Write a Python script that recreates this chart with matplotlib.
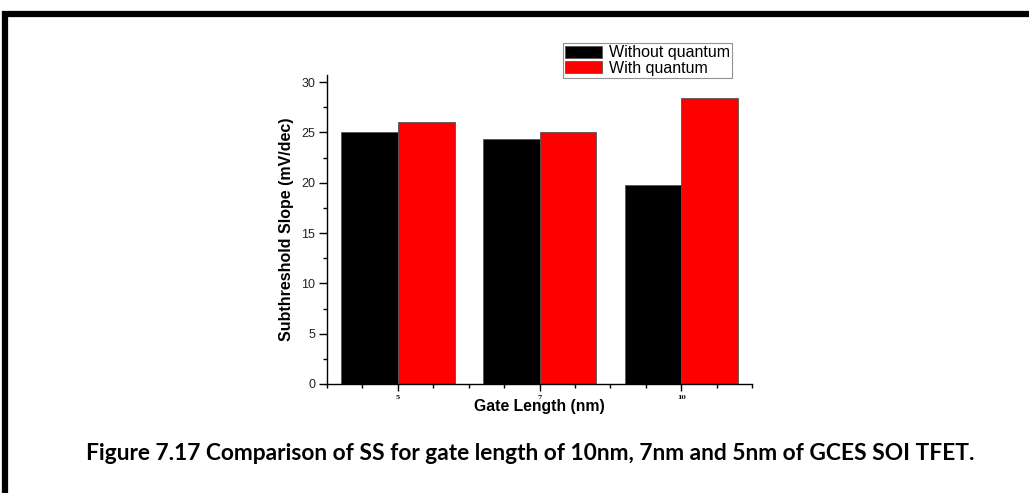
import matplotlib
matplotlib.use("Agg")
import matplotlib.pyplot as plt
from matplotlib.patches import Rectangle
from matplotlib.ticker import MultipleLocator, FixedLocator
import numpy as np

# Data
gate_lengths = ["5", "7", "10"]
ss_without_quantum = [25.0, 24.3, 19.8]
ss_with_quantum = [26.0, 25.0, 28.4]
series_labels = ["Without quantum", "With quantum"]
caption = "Figure 7.17 Comparison of SS for gate length of 10nm, 7nm and 5nm of GCES SOI TFET."

W, H = 1029, 493
fig = plt.figure(figsize=(W / 100, H / 100), dpi=100)
fig.patch.set_facecolor("white")

# Thick page frame around the figure
frame = Rectangle((5 / W, -0.2), 1.2, 1 - 14 / H + 0.2, transform=fig.transFigure,
                  fill=False, edgecolor="black", linewidth=4.5, zorder=0)
fig.patches.append(frame)

ax = fig.add_axes([327 / W, 1 - 384 / H, (752 - 327) / W, (384 - 75) / H])
x = np.arange(1, len(gate_lengths) + 1)
bw = 0.4
ax.bar(x - bw / 2, ss_without_quantum, width=bw, color="black", edgecolor="#555555",
       linewidth=0.6, label=series_labels[0])
ax.bar(x + bw / 2, ss_with_quantum, width=bw, color="#ff0000", edgecolor="#555555",
       linewidth=0.6, label=series_labels[1])

ax.set_xlim(0.5, 3.5)
ax.set_ylim(0, 30.7)
for s in ["top", "right"]:
    ax.spines[s].set_visible(False)
for s in ["left", "bottom"]:
    ax.spines[s].set_linewidth(1.0)

ax.xaxis.set_major_locator(FixedLocator(x))
ax.set_xticklabels(gate_lengths, fontfamily="DejaVu Serif", fontweight="bold", fontsize=4.5)
ax.xaxis.set_minor_locator(FixedLocator(np.arange(0.5, 3.51, 0.25)))
ax.tick_params(axis="x", which="major", length=5, width=1, pad=3, direction="out")
ax.tick_params(axis="x", which="minor", length=3, width=1, direction="out")

ax.yaxis.set_major_locator(MultipleLocator(5))
ax.yaxis.set_minor_locator(MultipleLocator(2.5))
ax.tick_params(axis="y", which="major", length=6, width=1, direction="out",
               labelsize=9, labelcolor="#222222", pad=2.5)
ax.tick_params(axis="y", which="minor", length=3, width=1, direction="out")
for t in ax.get_yticklabels():
    t.set_fontfamily("Liberation Sans")

ax.set_xlabel("Gate Length (nm)", fontfamily="Liberation Sans", fontweight="bold",
              fontsize=11.3, labelpad=-1)
ax.set_ylabel("Subthreshold Slope (mV/dec)", fontfamily="Liberation Sans",
              fontweight="bold", fontsize=11.5, labelpad=5)

leg = fig.legend(loc="upper left", bbox_to_anchor=(563 / W, 1 - 43 / H),
                 bbox_transform=fig.transFigure, frameon=True, fancybox=False,
                 prop={"family": "Liberation Sans", "size": 11.5},
                 handlelength=2.3, handleheight=0.75, handletextpad=0.4,
                 borderpad=0.15, labelspacing=0.02, borderaxespad=0)
leg.get_frame().set_edgecolor("#777777")
leg.get_frame().set_linewidth(0.8)

fig.text(0.5155, 1 - 453 / H, caption, ha="center", va="center",
         fontfamily="Lato", fontweight="bold", fontsize=16.4, color="black")

fig.savefig("out.png", dpi=100)
